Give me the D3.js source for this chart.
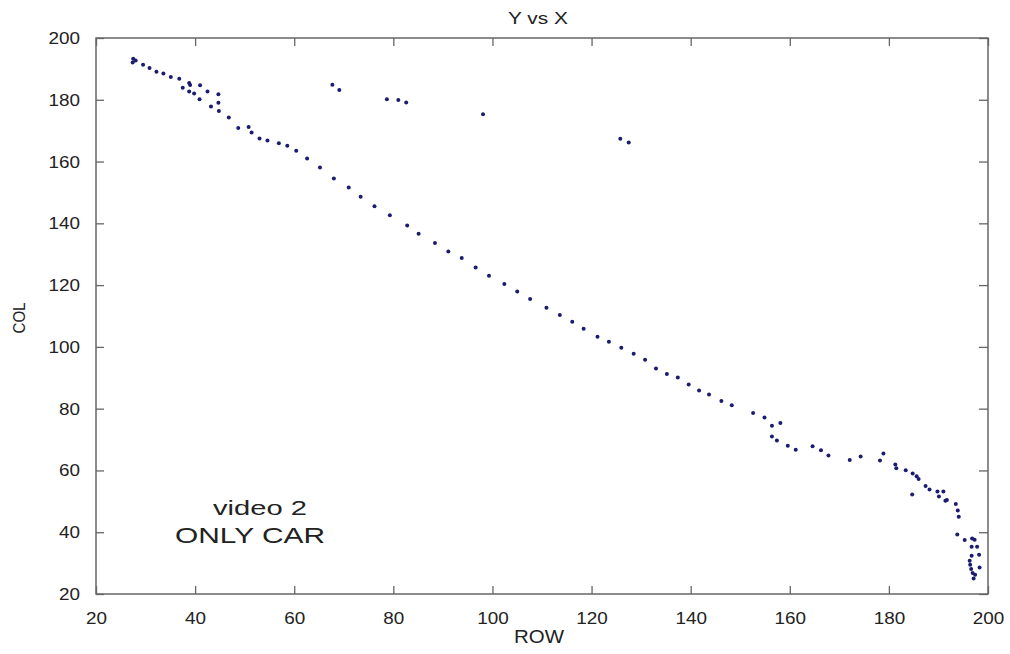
<!DOCTYPE html>
<html>
<head>
<meta charset="utf-8">
<script src="https://cdn.jsdelivr.net/npm/d3@7"></script>
<style>
body { margin: 0; background: #fff; }
text { font-family: Arial, "Liberation Sans", sans-serif; fill: #222; }
</style>
</head>
<body>
<div id="main_div"></div>
<script>
// ROW, COL pairs
var rows = [27.5, 27.4, 28.0, 29.5, 30.8, 32.2, 33.6, 35.1, 36.8, 37.5, 38.8, 39.0, 38.8, 39.8, 41.0, 40.9, 42.5, 43.2, 44.7, 44.7, 44.8, 46.8, 48.7, 50.8, 51.4, 53.0, 54.6, 56.9, 58.6, 60.4, 62.6, 65.2, 68.0, 71.0, 73.4, 76.2, 79.3, 82.8, 85.1, 88.4, 91.1, 93.8, 96.6, 99.3, 102.4, 105.0, 107.6, 110.9, 113.6, 116.1, 118.4, 121.2, 123.5, 126.0, 128.5, 130.8, 133.0, 135.2, 137.4, 139.6, 141.7, 143.7, 146.2, 148.3, 152.6, 154.9, 156.4, 158.1, 156.4, 157.4, 159.6, 161.2, 164.6, 166.3, 167.8, 172.1, 174.3, 178.2, 178.9, 181.3, 181.5, 183.4, 184.8, 185.6, 186.0, 184.7, 187.4, 188.2, 189.8, 191.0, 190.1, 191.4, 191.7, 193.5, 193.9, 194.1, 193.8, 195.3, 196.8, 197.3, 196.7, 197.8, 196.7, 198.2, 196.3, 196.4, 196.6, 196.9, 197.4, 198.3, 197.1,
    67.7, 69.1, 78.7, 81.0, 82.6, 98.1, 125.8, 127.5];
var cols = [193.3, 192.1, 192.7, 191.3, 190.3, 189.1, 188.5, 187.4, 186.8, 183.9, 185.4, 184.8, 182.7, 182.0, 184.7, 180.2, 182.7, 177.8, 181.8, 179.0, 176.4, 174.3, 170.9, 171.2, 169.4, 167.5, 166.8, 165.9, 165.1, 163.5, 161.0, 158.1, 154.5, 151.6, 148.6, 145.5, 142.6, 139.3, 136.6, 133.6, 130.9, 128.8, 125.7, 123.0, 120.4, 117.9, 115.5, 112.7, 110.3, 108.1, 105.9, 103.3, 101.7, 99.7, 97.8, 95.8, 93.0, 91.2, 90.1, 87.8, 85.9, 84.6, 82.5, 81.1, 78.6, 77.1, 74.5, 75.4, 71.0, 69.7, 68.0, 66.7, 67.8, 66.5, 64.8, 63.4, 64.5, 63.2, 65.5, 61.9, 60.7, 60.1, 59.0, 58.1, 57.2, 52.2, 55.0, 53.8, 53.2, 53.2, 51.6, 50.2, 50.4, 49.1, 47.0, 45.0, 39.3, 37.5, 38.0, 37.6, 35.3, 35.3, 32.4, 32.7, 30.8, 29.5, 28.1, 26.8, 26.2, 28.6, 25.0,
    184.9, 183.2, 180.2, 179.9, 179.1, 175.3, 167.4, 166.2];
var x_ticks = [20, 40, 60, 80, 100, 120, 140, 160, 180, 200];
var y_ticks = [20, 40, 60, 80, 100, 120, 140, 160, 180, 200];

var points = rows.map(function(r, i) { return {X: r, Y: cols[i]}; });

var x_scale = d3.scaleLinear().domain([20, 200]).range([96, 988]);
var y_scale = d3.scaleLinear().domain([20, 200]).range([594, 38]);

var svg = d3.select("#main_div").append("svg").attr("width", 1010).attr("height", 654);

// frame
svg.append("rect").attr("x", 96).attr("y", 38).attr("width", 892).attr("height", 556)
    .attr("fill", "none").attr("stroke", "#666").attr("stroke-width", 1.5);

var tickStyle = function(g) {
    g.select(".domain").remove();
    g.selectAll(".tick line").attr("stroke", "#666").attr("stroke-width", 1.3);
};

var g_x = svg.append("g").attr("transform", "translate(0,594)")
    .call(d3.axisBottom(x_scale).tickValues(x_ticks).tickSize(-8).tickPadding(18))
    .call(tickStyle);
g_x.selectAll("text").attr("font-size", 17).attr("fill", "#222")
    .attr("textLength", function(d) { return String(d).length * 10.5; }).attr("lengthAdjust", "spacingAndGlyphs");

svg.append("g").attr("transform", "translate(0,38)")
    .call(d3.axisTop(x_scale).tickValues(x_ticks).tickSize(-8).tickFormat(""))
    .call(tickStyle);

var g_y = svg.append("g").attr("transform", "translate(96,0)")
    .call(d3.axisLeft(y_scale).tickValues(y_ticks).tickSize(-8).tickPadding(16))
    .call(tickStyle);
g_y.selectAll("text").attr("font-size", 17).attr("fill", "#222")
    .attr("textLength", function(d) { return String(d).length * 10.5; }).attr("lengthAdjust", "spacingAndGlyphs");

svg.append("g").attr("transform", "translate(988,0)")
    .call(d3.axisRight(y_scale).tickValues(y_ticks).tickSize(-9).tickFormat(""))
    .call(tickStyle);

// points
svg.append("g").selectAll("circle").data(points).enter().append("circle")
    .attr("cx", function(d) { return x_scale(d.X); })
    .attr("cy", function(d) { return y_scale(d.Y); })
    .attr("r", 2)
    .attr("fill", "#1b1b70");

// labels
svg.append("text").attr("x", 538).attr("y", 24).attr("text-anchor", "middle")
    .attr("font-size", 17).attr("textLength", 60).attr("lengthAdjust", "spacingAndGlyphs").text("Y vs X");
svg.append("text").attr("x", 539).attr("y", 643).attr("text-anchor", "middle")
    .attr("font-size", 18).attr("textLength", 50).attr("lengthAdjust", "spacingAndGlyphs").text("ROW");
svg.append("text").attr("transform", "translate(25,318) rotate(-90)").attr("text-anchor", "middle")
    .attr("font-size", 16).attr("textLength", 31).attr("lengthAdjust", "spacingAndGlyphs").text("COL");

svg.append("text").attr("x", 213).attr("y", 515).attr("font-size", 21).attr("fill", "#111")
    .attr("textLength", 94).attr("lengthAdjust", "spacingAndGlyphs").text("video 2");
svg.append("text").attr("x", 175).attr("y", 543).attr("font-size", 22).attr("fill", "#111")
    .attr("textLength", 150).attr("lengthAdjust", "spacingAndGlyphs").text("ONLY CAR");
</script>
</body>
</html>
